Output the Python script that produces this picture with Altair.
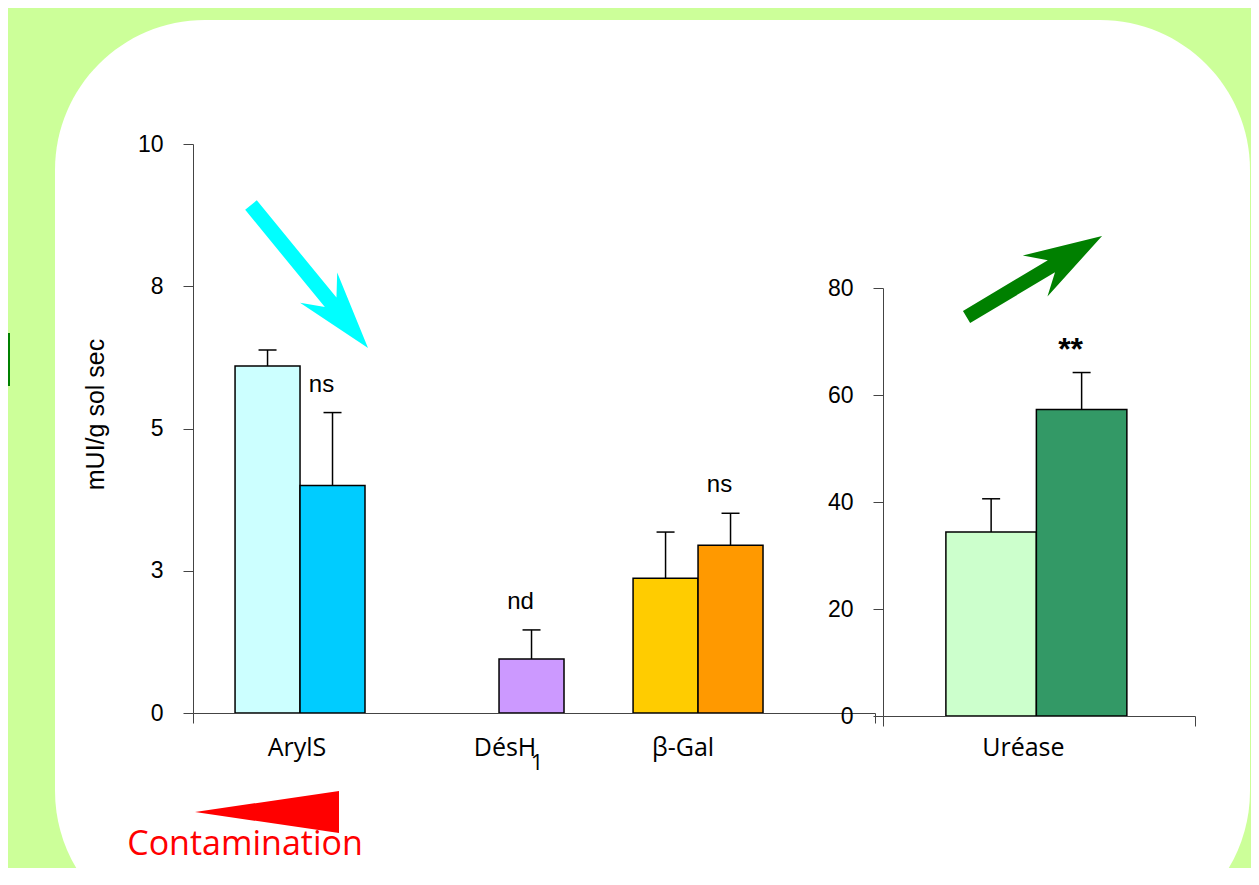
import altair as alt
import pandas as pd

# ---------------- data ----------------
left_categories = ["ArylS", "DésH1", "β-Gal"]
right_categories = ["Uréase"]
groups = ["Témoin", "Contaminé"]

left_enzymes = ["ArylS", "ArylS", "DésH1", "β-Gal", "β-Gal"]
left_groups = ["Témoin", "Contaminé", "Contaminé", "Témoin", "Contaminé"]
left_means = [6.10, 4.00, 0.95, 2.37, 2.95]
left_errors = [0.28, 1.28, 0.51, 0.81, 0.56]
left_sig = ["", "ns", "nd", "", "ns"]

right_enzymes = ["Uréase", "Uréase"]
right_groups = ["Témoin", "Contaminé"]
right_means = [34.4, 57.3]
right_errors = [6.2, 6.9]
right_sig = ["", "**"]

left_ticks = [0, 2.5, 5, 7.5, 10]
right_ticks = [0, 20, 40, 60, 80]

bar_keys = ["ArylS|Témoin", "ArylS|Contaminé", "DésH1|Contaminé", "β-Gal|Témoin",
            "β-Gal|Contaminé", "Uréase|Témoin", "Uréase|Contaminé"]
bar_colors = ["#CCFFFF", "#00CCFF", "#CC99FF", "#FFCC00", "#FF9900", "#CCFFCC", "#339966"]

y_title = "mUI/g sol sec"
contamination_label = "Contamination"

# ---------------- layout ----------------
W, H = 1243, 860
AX = "#444444"
NUM_FONT = "Liberation Sans"
CAT_FONT = "Comic Sans MS, Open Sans"

left_df = pd.DataFrame({"enzyme": left_enzymes, "group": left_groups,
                        "mean": left_means, "err": left_errors, "sig": left_sig})
right_df = pd.DataFrame({"enzyme": right_enzymes, "group": right_groups,
                         "mean": right_means, "err": right_errors, "sig": right_sig})

color = alt.Color("key:N", scale=alt.Scale(domain=bar_keys, range=bar_colors), legend=None)


def panel(df, cats, xscale_kw, xaxis_kw, ydomain, yrange, yaxis_kw,
          sig_size=24, sig_dy=-21, sig_weight="normal"):
    x = alt.X("enzyme:N", scale=alt.Scale(domain=cats, **xscale_kw),
              axis=alt.Axis(orient="bottom", title=None, ticks=False, labelAngle=0,
                            labelFont=CAT_FONT, labelFontSize=25, labelColor="black",
                            domainColor=AX, domainWidth=1, grid=False, zindex=1, **xaxis_kw))
    xo = alt.XOffset("group:N", scale=alt.Scale(domain=groups))
    yax = alt.Axis(orient="left", grid=False, tickSize=10, tickColor=AX, tickWidth=1,
                   domainColor=AX, domainWidth=1, labelFont=NUM_FONT, labelFontSize=23,
                   labelColor="black", labelPadding=20, zindex=1, **yaxis_kw)
    ysc = alt.Scale(domain=ydomain, range=yrange, nice=False, zero=True)
    base = alt.Chart(df).transform_calculate(
        key="datum.enzyme + '|' + datum.group", top="datum.mean + datum.err")
    bars = base.mark_bar(stroke="black", strokeWidth=1.5, opacity=1).encode(
        x=x, xOffset=xo, y=alt.Y("mean:Q", scale=ysc, axis=yax), color=color)
    rules = base.mark_rule(color="black", strokeWidth=1.5).encode(
        x=x, xOffset=xo, y=alt.Y("mean:Q", scale=ysc, axis=yax), y2="top:Q")
    caps = base.mark_tick(color="black", size=18, thickness=1.5, opacity=1).encode(
        x=x, xOffset=xo, y=alt.Y("top:Q", scale=ysc, axis=yax))
    sig = base.transform_filter("datum.sig != ''").mark_text(
        font=NUM_FONT, fontSize=sig_size, fontWeight=sig_weight, color="black",
        dx=-11, dy=sig_dy, baseline="alphabetic", align="center").encode(
        x=x, xOffset=xo, y=alt.Y("top:Q", scale=ysc, axis=yax), text="sig:N")
    return alt.layer(rules, caps, bars, sig)


left = panel(
    left_df, left_categories,
    dict(range=[185, 867], paddingInner=0.347, paddingOuter=0.387, align=0.273),
    dict(offset=-(H - 705), labelPadding=22,
         labelOffset={"condition": [{"test": "datum.value == 'β-Gal'", "value": -15},
                                    {"test": "datum.value == 'DésH1'", "value": 6}],
                      "value": -3},
         labelExpr="datum.label == 'DésH1' ? 'DésH' : datum.label"),
    [0, 10], [705, 136],
    dict(values=left_ticks, format=".0f", offset=-185, title=y_title,
         titleX=-98, titleY=406, titleAngle=270, titleAlign="center",
         titleBaseline="middle", titleFont=NUM_FONT, titleFontSize=25,
         titleFontWeight="normal", titleColor="black"),
)

right = panel(
    right_df, right_categories,
    dict(range=[875, 1187], paddingInner=0, paddingOuter=0.362, align=0.48),
    dict(offset=-(H - 708), labelPadding=19, labelOffset=-13),
    [0, 80], [708, 280],
    dict(values=right_ticks, format="d", offset=-875, title=None),
    sig_size=32, sig_dy=-13, sig_weight="bold",
)

# end ticks of the two category axes
frame_df = pd.DataFrame({"f": [0, 1]})


def frame(rng, off):
    return alt.Chart(frame_df).mark_point(opacity=0).encode(
        x=alt.X("f:Q", scale=alt.Scale(domain=[0, 1], range=rng, nice=False, zero=False),
                axis=alt.Axis(values=[0, 1], labels=False, domain=False, tickSize=10,
                              tickColor=AX, tickWidth=1, orient="bottom", offset=off,
                              title=None, grid=False, zindex=1)))


frameL = frame([185, 867], -(H - 705))
frameR = frame([875, 1187], -(H - 708))

# ---------------- decorations ----------------
dummy = pd.DataFrame({"a": [0]})


def arrow_path(length, half_w, tip_to_barb=78.0, tip_to_notch=59.0, barb_half=24.0):
    r = length / 2.0
    bx = 1 - tip_to_barb / r
    nx = 1 - tip_to_notch / r
    hw = half_w / r
    bh = barb_half / r
    return (f"M -1 {-hw:.4f} L {nx:.4f} {-hw:.4f} L {bx:.4f} {-bh:.4f} L 1 0 "
            f"L {bx:.4f} {bh:.4f} L {nx:.4f} {hw:.4f} L -1 {hw:.4f} Z")


white_bg = alt.Chart(dummy).mark_rect(color="white", cornerRadius=150).encode(
    x=alt.value(47), x2=alt.value(1242), y=alt.value(12), y2=alt.value(933))
green_tab = alt.Chart(dummy).mark_rect(color="#008000").encode(
    x=alt.value(0), x2=alt.value(2), y=alt.value(325), y2=alt.value(378))

cyan_len = 184.8
cyan_arrow = alt.Chart(dummy).mark_point(
    shape=arrow_path(cyan_len, 7.5), size=cyan_len ** 2, angle=50.7, filled=True,
    color="#00FFFF", opacity=1, strokeWidth=0).encode(x=alt.value(301.5), y=alt.value(268.5))

green_len = 157.9
green_arrow = alt.Chart(dummy).mark_point(
    shape=arrow_path(green_len, 7.0), size=green_len ** 2, angle=329.1, filled=True,
    color="#008000", opacity=1, strokeWidth=0).encode(x=alt.value(1026.3), y=alt.value(268.5))

wedge = alt.Chart(dummy).mark_point(
    shape="M -1 0 L 1 -0.292 L 1 0.292 Z", size=144 ** 2, filled=True,
    color="#FF0000", opacity=1, strokeWidth=0).encode(x=alt.value(259), y=alt.value(804))

contam = alt.Chart(dummy).mark_text(
    text=contamination_label, font=CAT_FONT, fontSize=34, color="#FF0000",
    align="center", baseline="alphabetic").encode(x=alt.value(237), y=alt.value(847))

sub1 = alt.Chart(dummy).mark_text(
    text="1", font=CAT_FONT, fontSize=22, color="black",
    align="center", baseline="alphabetic").encode(x=alt.value(529), y=alt.value(762))

chart = alt.layer(
    white_bg, green_tab, cyan_arrow, green_arrow, wedge, contam,
    left, right, frameL, frameR, sub1,
).resolve_scale(
    x="independent", y="independent", xOffset="independent"
).properties(
    width=W, height=H, autosize=alt.AutoSizeParams(type="none"), padding=0,
).configure(
    background="#CCFF99",
).configure_view(
    stroke=None,
)

chart.save("out.html", embed_options={"renderer": "svg", "actions": False})
